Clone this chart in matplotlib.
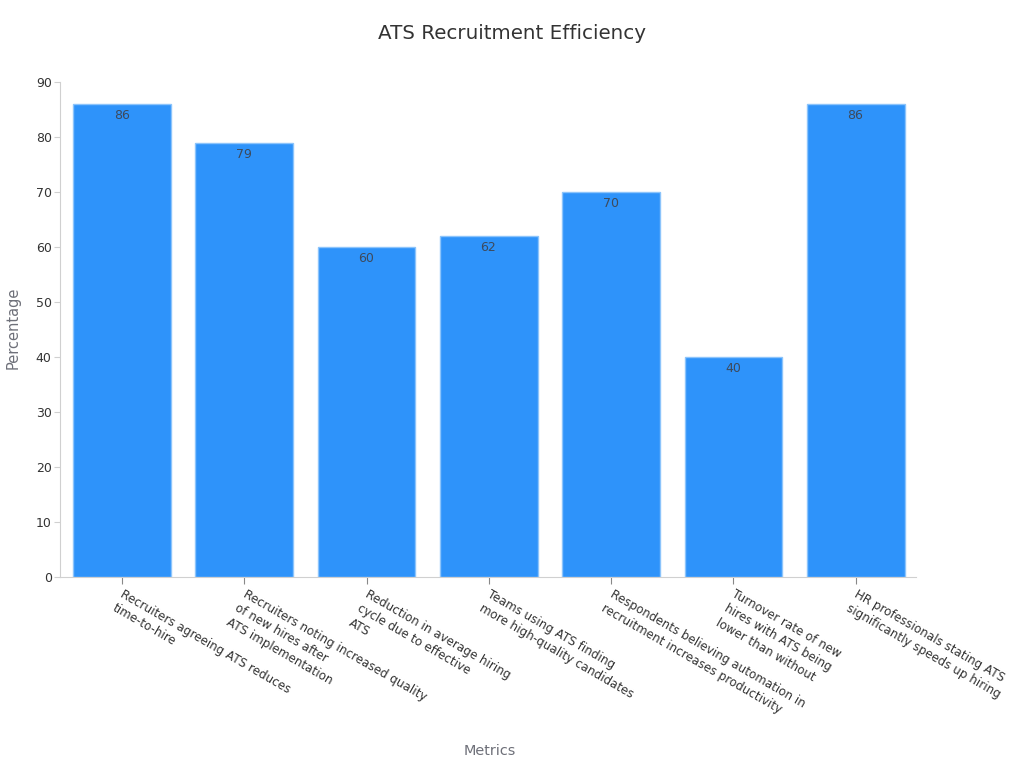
import matplotlib
matplotlib.use("Agg")

import matplotlib.pyplot as plt
from matplotlib.transforms import ScaledTranslation

categories = [
    "Recruiters agreeing ATS reduces\ntime-to-hire",
    "Recruiters noting increased quality\nof new hires after\nATS implementation",
    "Reduction in average hiring\ncycle due to effective\nATS",
    "Teams using ATS finding\nmore high-quality candidates",
    "Respondents believing automation in\nrecruitment increases productivity",
    "Turnover rate of new\nhires with ATS being\nlower than without",
    "HR professionals stating ATS\nsignificantly speeds up hiring",
]
values = [86, 79, 60, 62, 70, 40, 86]
y_ticks = list(range(0, 100, 10))

BAR_COLOR = "#2e93fa"
BAR_EDGE = "#8cc4fb"
AXIS_COLOR = "#d0d0d0"
TEXT_COLOR = "#333333"
LABEL_COLOR = "#6e7079"

fig = plt.figure(figsize=(10.24, 7.68), dpi=100)
ax = fig.add_axes([60 / 1024, 1 - 577 / 768, 856 / 1024, 495 / 768])

x = list(range(len(values)))
bars = ax.bar(x, values, width=0.8, color=BAR_COLOR, edgecolor=BAR_EDGE, linewidth=1)

for bar, val in zip(bars, values):
    ax.annotate(
        f"{val}",
        xy=(bar.get_x() + bar.get_width() / 2, val),
        xytext=(-0.3, -3.7),
        textcoords="offset points",
        ha="center", va="top", fontsize=9, color="#3d4a5c",
    )

ax.set_xlim(-0.507, len(values) - 0.507)
ax.set_ylim(0, 90)
ax.set_yticks(y_ticks)
ax.tick_params(axis="y", length=4, color=AXIS_COLOR, labelsize=9, labelcolor=TEXT_COLOR, pad=2)
ax.tick_params(axis="x", length=5, color="#888888", labelsize=8.6, labelcolor=TEXT_COLOR, pad=2)

ax.set_xticks(x)
ax.set_xticklabels(categories, rotation=-30, ha="left", va="top", rotation_mode="anchor", linespacing=1.33)

# nudge the slanted labels to the right and a little down
nudge = ScaledTranslation(3 / 100, -1 / 100, fig.dpi_scale_trans)
for lab in ax.get_xticklabels():
    lab.set_transform(lab.get_transform() + nudge)

ax.spines["top"].set_visible(False)
ax.spines["right"].set_visible(False)
ax.spines["left"].set_color(AXIS_COLOR)
ax.spines["bottom"].set_color(AXIS_COLOR)

fig.text(512 / 1024, 1 - 33.5 / 768, "ATS Recruitment Efficiency", ha="center", va="center",
         fontsize=14.35, color=TEXT_COLOR)
fig.text(489.5 / 1024, 1 - 751 / 768, "Metrics", ha="center", va="center", fontsize=10.4, color=LABEL_COLOR)
fig.text(13 / 1024, 1 - 328 / 768, "Percentage", ha="center", va="center", rotation=90,
         fontsize=10.5, color=LABEL_COLOR)

fig.savefig("out.png", dpi=100)
